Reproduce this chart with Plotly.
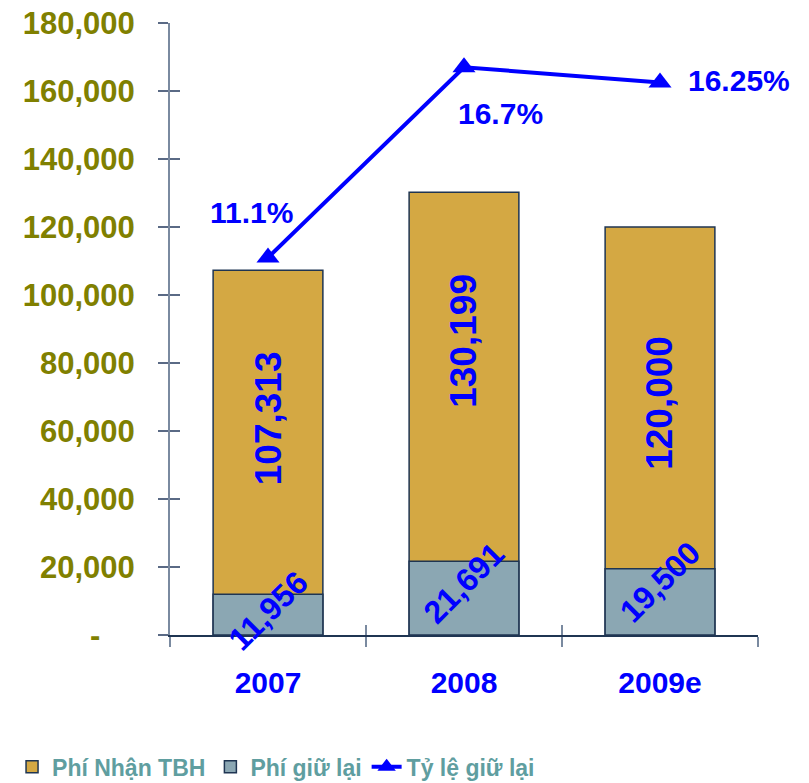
import plotly.graph_objects as go

categories = ["2007", "2008", "2009e"]
phi_nhan_tbh = [107313, 130199, 120000]
phi_giu_lai = [11956, 21691, 19500]
ty_le_giu_lai = [11.1, 16.7, 16.25]

y_tickvals = [0, 20000, 40000, 60000, 80000, 100000, 120000, 140000, 160000, 180000]
y_ticktext = ["-\u00a0\u00a0\u00a0\u00a0"] + [f"{v:,}" for v in y_tickvals[1:]]

GOLD = "#D4A843"
GREY = "#8BA7B3"
EDGE = "#1F3552"
BLUE = "#0000FF"
OLIVE = "#808000"
TEAL = "#5F9EA0"
FONT = "Liberation Sans"

fig = go.Figure()
fig.add_trace(go.Bar(
    x=categories, y=phi_nhan_tbh, name="Phí Nhận TBH",
    marker=dict(color=GOLD, line=dict(color=EDGE, width=1.5)),
    width=0.56,
))
fig.add_trace(go.Bar(
    x=categories, y=phi_giu_lai, name="Phí giữ lại",
    marker=dict(color=GREY, line=dict(color=EDGE, width=1.5)),
    width=0.56,
))
fig.add_trace(go.Scatter(
    x=categories, y=ty_le_giu_lai, name="Tỷ lệ giữ lại", yaxis="y2",
    mode="lines+markers",
    line=dict(color=BLUE, width=4),
    marker=dict(symbol="triangle-up", size=20, color=BLUE),
))
# empty helper trace so the crossing-tick axes are drawn
fig.add_trace(go.Scatter(x=[], y=[], xaxis="x2", yaxis="y3", showlegend=False,
                         hoverinfo="skip"))

annotations = []
# total labels (vertical)
total_shift = [14, 36, -5]
for i, (t, r, s) in enumerate(zip(phi_nhan_tbh, phi_giu_lai, total_shift)):
    annotations.append(dict(
        x=i, y=(t + r) / 2, xref="x", yref="y", text=f"{t:,}", textangle=-90,
        showarrow=False, yshift=s,
        font=dict(family=FONT, size=37, color=BLUE, weight="bold"),
    ))
# retained labels (diagonal)
ret_shift = [4, 15, 20]
for i, (r, s) in enumerate(zip(phi_giu_lai, ret_shift)):
    annotations.append(dict(
        x=i, y=r / 2, xref="x", yref="y", text=f"{r:,}", textangle=-45,
        showarrow=False, yshift=s,
        font=dict(family=FONT, size=32, color=BLUE, weight="bold"),
    ))
# percentage labels
pct_shift = [(-17, 45), (36, -46), (79, 2)]
for i, (p, (dx, dy)) in enumerate(zip(ty_le_giu_lai, pct_shift)):
    annotations.append(dict(
        x=i, y=p, xref="x", yref="y2", text=f"{p:g}%",
        showarrow=False, xshift=dx, yshift=dy,
        font=dict(family=FONT, size=30, color=BLUE, weight="bold"),
    ))

fig.update_layout(
    width=809, height=783,
    margin=dict(l=162, r=59, t=15, b=156, autoexpand=False),
    paper_bgcolor="white", plot_bgcolor="white",
    barmode="overlay",
    showlegend=True,
    legend=dict(
        orientation="h", xref="container", yref="container",
        x=0.005, xanchor="left", y=0.031, yanchor="middle",
        font=dict(family=FONT, size=23, color=TEAL, weight="bold"),
        itemwidth=30, tracegroupgap=0,
    ),
    xaxis=dict(
        type="category", range=[-0.5, 2.5], automargin=False,
        showline=True, linecolor=EDGE, linewidth=1.5,
        ticks="outside", ticklen=10, tickcolor="#7A8AA0", tickwidth=1.5,
        tickson="boundaries",
        tickfont=dict(family=FONT, size=30, color=BLUE, weight="bold"),
        ticklabelstandoff=20,
        showgrid=False, zeroline=False,
    ),
    xaxis2=dict(
        overlaying="x", anchor="y", side="bottom", type="category",
        range=[-0.5, 2.5], showline=False, automargin=False,
        ticks="inside", ticklen=10, tickcolor="#7A8AA0", tickwidth=1.5,
        tickson="boundaries", showticklabels=False, showgrid=False, zeroline=False,
        categoryarray=categories, categoryorder="array",
        tickvals=categories,
    ),
    yaxis=dict(
        range=[0, 180000], tickvals=y_tickvals, ticktext=y_ticktext, automargin=False,
        showline=True, linecolor="#7A8AA0", linewidth=2,
        ticks="outside", ticklen=10, tickcolor="#5A6A85", tickwidth=1.5,
        tickfont=dict(family=FONT, size=31, color=OLIVE, weight="bold"),
        ticklabelstandoff=17, ticklabeloverflow="allow",
        showgrid=False, zeroline=False,
    ),
    yaxis2=dict(
        range=[0, 18], overlaying="y", side="right", visible=False,
    ),
    yaxis3=dict(
        range=[0, 180000], overlaying="y", side="left", anchor="x", automargin=False,
        tickvals=y_tickvals, showticklabels=False, showline=False,
        ticks="inside", ticklen=10, tickcolor="#5A6A85", tickwidth=1.5,
        showgrid=False, zeroline=False,
    ),
    annotations=annotations,
)

fig.write_html("out.html")
